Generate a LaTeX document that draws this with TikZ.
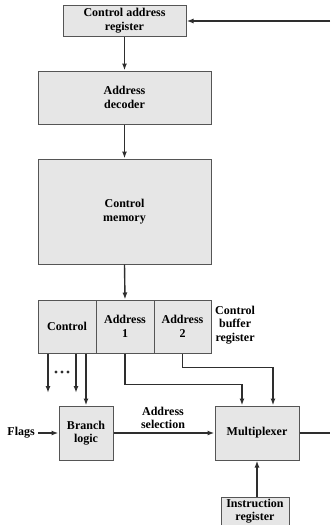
\documentclass[tikz,border=0pt]{standalone}
\usepackage{fontspec}
\setmainfont{Liberation Serif}
\usetikzlibrary{arrows.meta,calc}
\definecolor{boxfill}{HTML}{E6E6E6}
\definecolor{boxline}{HTML}{555555}
\definecolor{wire}{HTML}{2E2E2E}
\begin{document}
\begin{tikzpicture}[x=1pt,y=1pt,
  blk/.style={draw=boxline,fill=boxfill,line width=1pt,inner sep=0pt,align=center,
    font=\fontsize{12}{13.5}\selectfont\bfseries},
  lbl/.style={inner sep=0pt,align=center,font=\fontsize{12}{13.5}\selectfont\bfseries},
  wr/.style={draw=wire,line width=1.4pt},
  arr/.style={wr,-{Latex[length=7pt,width=5pt]}}]
\useasboundingbox (0,0) rectangle (330,-525);
% blocks
\node[blk,minimum width=123pt,minimum height=31pt] (car) at (124.5,-20.5) {Control address\\register};
\node[blk,minimum width=173pt,minimum height=53pt] (dec) at (124.5,-97.5) {Address\\decoder};
\node[blk,minimum width=173pt,minimum height=105pt] (mem) at (124.5,-211.5) {Control\\memory};
\node[blk,minimum width=58pt,minimum height=53pt] (ctl) at (67,-326.5) {Control};
\node[blk,minimum width=58pt,minimum height=53pt] (a1) at (125,-326.5) {Address\\1};
\node[blk,minimum width=57pt,minimum height=53pt] (a2) at (182.5,-326.5) {Address\\2};
\node[lbl,anchor=west,align=center] (cbr) at (215,-325) {Control\\buffer\\register};
\node[blk,minimum width=54pt,minimum height=54pt] (br) at (86,-433) {Branch\\logic};
\node[blk,minimum width=84pt,minimum height=54pt] (mux) at (257,-433) {Multiplexer};
\node[blk,minimum width=68pt,minimum height=28pt] (ir) at (255,-511) {Instruction\\register};
\node[lbl,anchor=east] (flags) at (35,-433) {Flags};
\node[lbl] (asel) at (163,-418) {Address\\selection};
% free ends
\coordinate (fbin) at (330,-21);
\coordinate (muxout) at (330,-433);
\coordinate (c1) at (48,-393);
\coordinate (c2) at (76,-393);
% connectors
\draw[arr] (fbin) -- (car.east |- fbin);
\draw[arr] (car.south -| dec.north) -- (dec.north);
\draw[arr] (dec.south) -- (mem.north);
\draw[arr] (mem.south) -- (a1.north);
\draw[arr] (c1 |- ctl.south) -- (c1);
\draw[arr] (c2 |- ctl.south) -- (c2);
\draw[arr] (br.north |- ctl.south) -- (br.north);
\draw[arr] (flags.east) ++(3pt,0) -- (br.west);
\draw[arr] (br.east) -- (mux.west);
\draw[arr] (a1.south) -- ++(0,-31) -| ($(mux.north)+(-15,0)$);
\draw[arr] (a2.south) -- ++(0,-14) -| ($(mux.north)+(16,0)$);
\draw[arr] (ir.north -| mux.south) -- (mux.south);
\draw[wr] (mux.east) -- (muxout);
% dots
\foreach \dx in {56,62,68} \fill[wire] (\dx,-372) circle (1.6pt);
\end{tikzpicture}
\end{document}
